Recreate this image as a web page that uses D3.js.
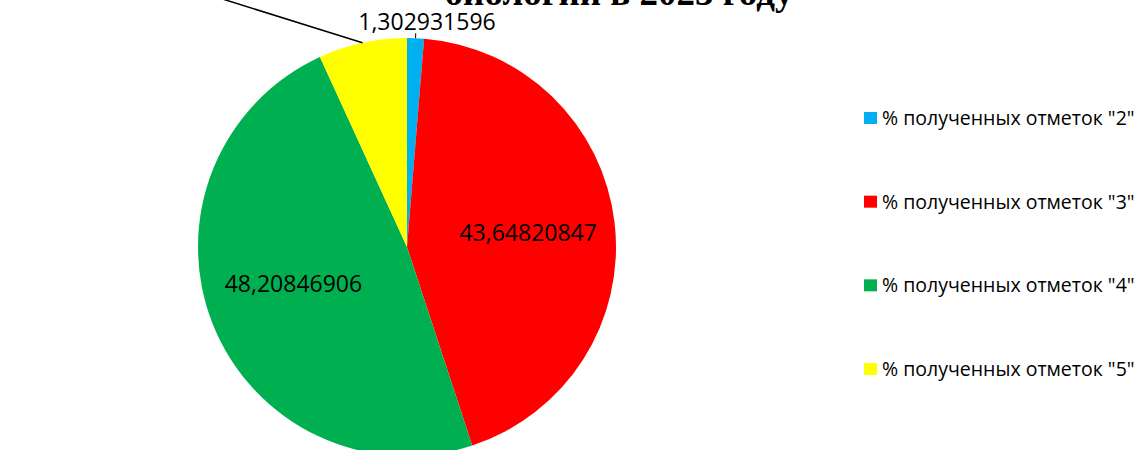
<!DOCTYPE html>
<html>
<head>
<meta charset="utf-8">
<script src="https://cdn.jsdelivr.net/npm/d3@7"></script>
<style>
  body { margin: 0; background: #fff; overflow: hidden; }
</style>
</head>
<body>
<div id="chart"></div>
<script>
const categories = ['% полученных отметок "2"', '% полученных отметок "3"', '% полученных отметок "4"', '% полученных отметок "5"'];
const values = [1.302931596, 43.64820847, 48.20846906, 6.84039088];
const valueLabels = ["1,302931596", "43,64820847", "48,20846906", "6,84039088"];
const colors = ["#00B0F0", "#FF0000", "#00B050", "#FFFF00"];
const titleLine = "биологии в 2023 году";

const width = 1139, height = 450;
const cx = 407, cy = 247, radius = 209;

const svg = d3.select("#chart").append("svg")
    .attr("width", width)
    .attr("height", height);

const data = categories.map((c, i) => ({ name: c, value: values[i], label: valueLabels[i], color: colors[i] }));

const pie = d3.pie().value(d => d.value).sort(null);
const arcs = pie(data);

const arc = d3.arc().innerRadius(0).outerRadius(radius);
const inLabelArc = d3.arc().innerRadius(122).outerRadius(122);

const g = svg.append("g").attr("transform", `translate(${cx},${cy})`);

g.selectAll("path.slice")
    .data(arcs)
    .enter().append("path")
    .attr("class", "slice")
    .attr("d", arc)
    .attr("fill", d => d.data.color);

// labels inside big slices
g.selectAll("text.inlabel")
    .data(arcs.filter(d => d.data.value > 20))
    .enter().append("text")
    .attr("class", "inlabel")
    .attr("transform", d => `translate(${inLabelArc.centroid(d)})`)
    .attr("text-anchor", "middle")
    .attr("dy", d => d.index === 2 ? "0.0em" : "0.36em")
    .style("font-family", "'Open Sans', sans-serif")
    .style("font-size", "23px")
    .style("fill", "#000")
    .text(d => d.data.label);

// small slice "2": label just above the pie with a short tick
const a2 = arcs[0];
const mid2 = (a2.startAngle + a2.endAngle) / 2;
const edge = (ang, r) => [Math.sin(ang) * r, -Math.cos(ang) * r];
g.append("line")
    .attr("x1", edge(mid2, radius)[0]).attr("y1", edge(mid2, radius)[1])
    .attr("x2", edge(mid2, radius + 5)[0]).attr("y2", edge(mid2, radius + 5)[1])
    .attr("stroke", "#000").attr("stroke-width", 1);
g.append("text")
    .attr("x", edge(mid2, radius + 10)[0] + 11)
    .attr("y", edge(mid2, radius + 10)[1] + 2)
    .attr("text-anchor", "middle")
    .style("font-family", "'Open Sans', sans-serif")
    .style("font-size", "23px")
    .style("fill", "#000")
    .text(a2.data.label);

// slice "5": leader line running to a label above the visible area
const a5 = arcs[3];
const mid5 = (a5.startAngle + a5.endAngle) / 2;
const p0 = edge(mid5, radius);
const p1 = [p0[0] - 230, p0[1] - 72];
g.append("line")
    .attr("x1", p0[0]).attr("y1", p0[1])
    .attr("x2", p1[0]).attr("y2", p1[1])
    .attr("stroke", "#000").attr("stroke-width", 1.5);
g.append("text")
    .attr("x", p1[0]).attr("y", p1[1] - 6)
    .attr("text-anchor", "end")
    .style("font-family", "'Open Sans', sans-serif")
    .style("font-size", "23px")
    .text(a5.data.label);

// title (only its last line shows at the top edge)
svg.append("text")
    .attr("x", 619)
    .attr("y", 5)
    .attr("text-anchor", "middle")
    .style("font-family", "'Liberation Serif', 'Times New Roman', serif")
    .style("font-weight", "bold")
    .style("font-size", "37px")
    .style("fill", "#000")
    .text(titleLine);

// legend
const legendY = d3.scalePoint().domain(categories).range([118, 369]);
const legend = svg.append("g");
const item = legend.selectAll("g")
    .data(data)
    .enter().append("g")
    .attr("transform", d => `translate(864,${legendY(d.name)})`);
item.append("rect")
    .attr("x", 0).attr("y", -6)
    .attr("width", 13).attr("height", 12)
    .attr("fill", d => d.color);
item.append("text")
    .attr("x", 18)
    .attr("dy", "0.36em")
    .style("font-family", "'Open Sans', sans-serif")
    .style("font-size", "19.5px")
    .style("fill", "#000")
    .text(d => d.name);
</script>
</body>
</html>
